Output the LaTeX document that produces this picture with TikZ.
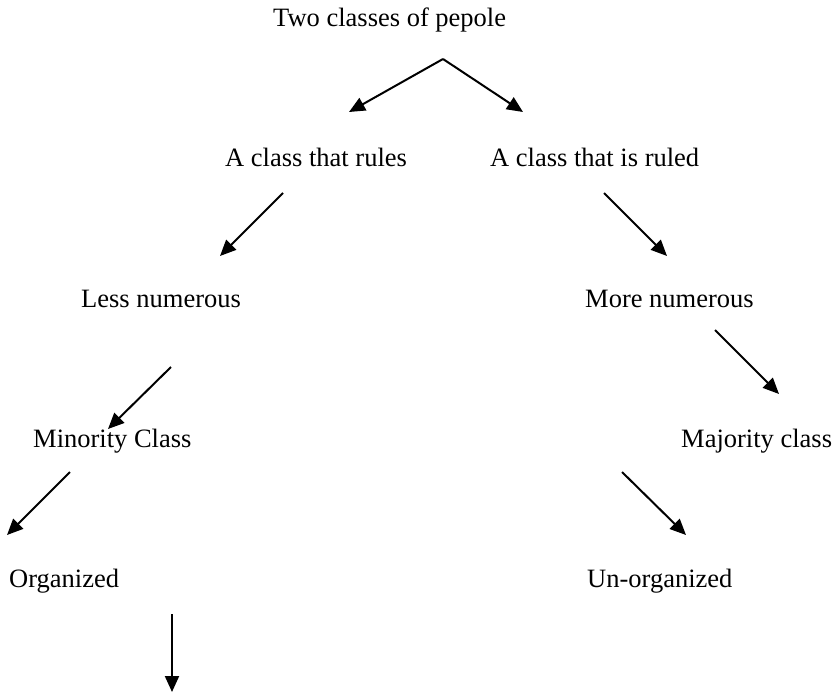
\documentclass[tikz,border=0pt]{standalone}
\usepackage{fontspec}
\setmainfont{Liberation Serif}
\usetikzlibrary{arrows.meta}

\begin{document}
\begin{tikzpicture}[x=1pt,y=-1pt,
	lbl/.style={anchor=base west,inner sep=0pt,font=\fontsize{26.5}{31}\selectfont},
	arr/.style={line width=2pt,-{Triangle[length=16pt,width=14pt]}}]
	\useasboundingbox (0,0) rectangle (834,693);

	\node[lbl] (two) at (273,27) {Two classes of pepole};
	\node[lbl] (rules) at (225,166) {A class that rules};
	\node[lbl] (ruled) at (490,166) {A class that is ruled};
	\node[lbl] (less) at (81,307) {Less numerous};
	\node[lbl] (more) at (585,307) {More numerous};
	\node[lbl] (minor) at (33,447) {Minority Class};
	\node[lbl] (major) at (681,447) {Majority class};
	\node[lbl] (org) at (9,587) {Organized};
	\node[lbl] (unorg) at (587,587) {Un-organized};

	\coordinate (top) at (443,59);
	\coordinate (a1) at (349,112);
	\coordinate (a2) at (523,112);
	\coordinate (b1) at (283,193);
	\coordinate (b2) at (220,256);
	\coordinate (c1) at (604,193);
	\coordinate (c2) at (667,256);
	\coordinate (d1) at (171,367);
	\coordinate (d2) at (108,429);
	\coordinate (e1) at (715,330);
	\coordinate (e2) at (779,394);
	\coordinate (f1) at (70,472);
	\coordinate (f2) at (7,535);
	\coordinate (g1) at (622,472);
	\coordinate (g2) at (686,535);
	\coordinate (h1) at (172,614);
	\coordinate (h2) at (172,692);

	\draw[arr] (top) -- (a1);
	\draw[arr] (top) -- (a2);
	\draw[arr] (b1) -- (b2);
	\draw[arr] (c1) -- (c2);
	\draw[arr] (d1) -- (d2);
	\draw[arr] (e1) -- (e2);
	\draw[arr] (f1) -- (f2);
	\draw[arr] (g1) -- (g2);
	\draw[arr] (h1) -- (h2);
\end{tikzpicture}
\end{document}
